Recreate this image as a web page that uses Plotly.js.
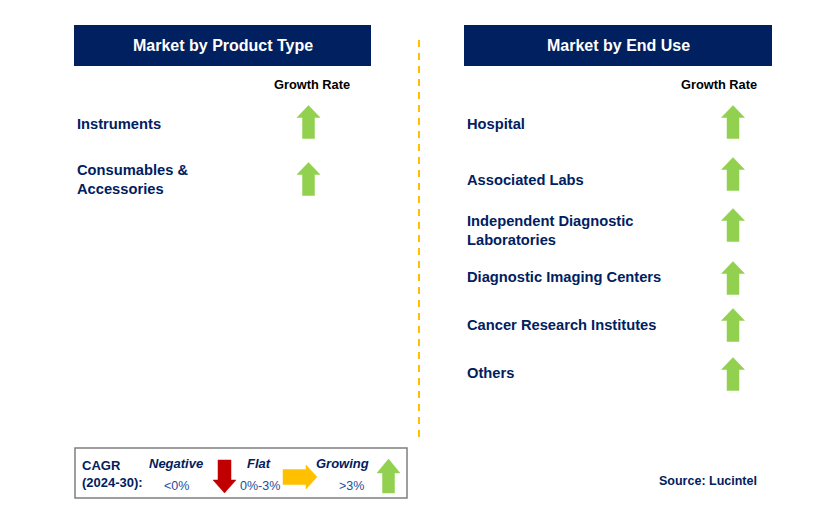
<!DOCTYPE html>
<html>
<head>
<meta charset="utf-8">
<script src="https://cdn.plot.ly/plotly-3.0.1.min.js"></script>
<style>html,body{margin:0;padding:0;background:#fff;}#chart{width:831px;height:523px;}</style>
</head>
<body>
<div id="chart"></div>
<script>
// ---- data ----
var panelTitles = ["Market by Product Type", "Market by End Use"];
var productTypes = ["Instruments", "Consumables &<br>Accessories"];
var productGrowth = ["up", "up"];
var endUses = ["Hospital", "Associated Labs", "Independent Diagnostic<br>Laboratories", "Diagnostic Imaging Centers", "Cancer Research Institutes", "Others"];
var endUseGrowth = ["up", "up", "up", "up", "up", "up"];
var legendLabels = ["Negative", "Flat", "Growing"];
var legendRanges = ["<0%", "0%-3%", ">3%"];
var legendDirections = ["down", "right", "up"];
var cagrLabel = "CAGR<br>(2024-30):";
var sourceText = "Source: Lucintel";

// ---- styling / layout helpers ----
var NAVY = "#002060", GREEN = "#92d050", RED = "#c00000", ORANGE = "#ffc000";
var FONT = "Liberation Sans, Arial, sans-serif";
var colorFor = {up: GREEN, down: RED, right: ORANGE};

function arrowPath(dir, cx, cy, len, w, head, shaft) {
  var xs, ys, h = len / 2;
  if (dir === "up") {
    xs = [cx, cx + w/2, cx + shaft/2, cx + shaft/2, cx - shaft/2, cx - shaft/2, cx - w/2, cx];
    ys = [cy - h, cy - h + head, cy - h + head, cy + h, cy + h, cy - h + head, cy - h + head, cy - h];
  } else if (dir === "down") {
    xs = [cx, cx + w/2, cx + shaft/2, cx + shaft/2, cx - shaft/2, cx - shaft/2, cx - w/2, cx];
    ys = [cy + h, cy + h - head, cy + h - head, cy - h, cy - h, cy + h - head, cy + h - head, cy + h];
  } else {
    xs = [cx + h, cx + h - head, cx + h - head, cx - h, cx - h, cx + h - head, cx + h - head, cx + h];
    ys = [cy, cy - w/2, cy - shaft/2, cy - shaft/2, cy + shaft/2, cy + shaft/2, cy + w/2, cy];
  }
  return {x: xs, y: ys};
}

var traces = [], annotations = [], shapes = [];

function addArrow(dir, cx, cy, len, w, head, shaft) {
  var p = arrowPath(dir, cx, cy, len, w, head, shaft);
  traces.push({type: "scatter", mode: "lines", x: p.x, y: p.y, fill: "toself",
    fillcolor: colorFor[dir], line: {color: colorFor[dir], width: 0.5}, hoverinfo: "skip", showlegend: false});
}
function addText(text, x, y, opts) {
  opts = opts || {};
  annotations.push({xref: "x", yref: "y", x: x, y: y, text: text, showarrow: false,
    xanchor: opts.xanchor || "left", yanchor: "middle", align: opts.align || "left",
    borderpad: 0, borderwidth: 0,
    font: {family: opts.family || FONT, size: opts.size || 14, color: opts.color || NAVY}});
}

// headers
var headerBoxes = [[74, 371], [464, 772]];
panelTitles.forEach(function (t, i) {
  var b = headerBoxes[i];
  shapes.push({type: "rect", xref: "x", yref: "y", x0: b[0], x1: b[1], y0: 25, y1: 66,
    fillcolor: NAVY, line: {width: 0}, layer: "below"});
  addText("<b>" + t + "</b>", (b[0] + b[1]) / 2 + 0.5, 45.5, {xanchor: "center", size: 16, color: "#ffffff"});
});
addText("<b>Growth Rate</b>", 312, 84, {xanchor: "center", size: 12.8, color: "#000000"});
addText("<b>Growth Rate</b>", 719, 84, {xanchor: "center", size: 12.8, color: "#000000"});

// left panel rows
var leftTextY = [124, 179.5];
var leftArrowY = [122, 179];
productTypes.forEach(function (c, i) {
  addText("<b>" + c + "</b>", 77, leftTextY[i], {size: 14.7, align: "left"});
  addArrow(productGrowth[i], 308.5, leftArrowY[i], 33, 23, 12, 12);
});

// right panel rows
var rightTextY = [124, 180, 230.5, 277, 325, 373];
var rightArrowY = [122, 174, 225, 278, 325, 374];
endUses.forEach(function (c, i) {
  addText("<b>" + c + "</b>", 467, rightTextY[i], {size: 14.7, align: "left"});
  addArrow(endUseGrowth[i], 733, rightArrowY[i], 33, 23, 12, 12);
});

// divider
shapes.push({type: "line", xref: "x", yref: "y", x0: 419, x1: 419, y0: 40, y1: 438,
  line: {color: ORANGE, width: 2, dash: "7px,6px"}});

// legend box
shapes.push({type: "rect", xref: "x", yref: "y", x0: 75, x1: 407, y0: 448, y1: 498,
  line: {color: "#7f7f7f", width: 1.5}, fillcolor: "rgba(0,0,0,0)"});
addText("<b>" + cagrLabel + "</b>", 82, 474, {size: 13, align: "left"});
var legLabelX = [176, 259, 342];
var legRangeX = [176, 260, 351];
var legArrow = [
  {cx: 224.5, cy: 476.5, len: 33, w: 23, head: 13, shaft: 13},
  {cx: 300, cy: 477, len: 34, w: 24, head: 11, shaft: 15},
  {cx: 388.5, cy: 476, len: 34, w: 23, head: 14, shaft: 12}
];
legendLabels.forEach(function (l, i) {
  addText("<b><i>" + l + "</i></b>", legLabelX[i], 463, {xanchor: "center", size: 13});
  addText(legendRanges[i].replace("<", "&lt;").replace(">", "&gt;"), legRangeX[i], 486, {xanchor: "center", size: 12.5, color: "#1f4e9a"});
  var a = legArrow[i];
  addArrow(legendDirections[i], a.cx, a.cy, a.len, a.w, a.head, a.shaft);
});

addText("<b>" + sourceText + "</b>", 757, 481, {xanchor: "right", size: 12.5});

var layout = {
  width: 831, height: 523,
  margin: {l: 0, r: 0, t: 0, b: 0},
  paper_bgcolor: "#ffffff", plot_bgcolor: "#ffffff",
  xaxis: {range: [0, 831], visible: false, fixedrange: true},
  yaxis: {range: [523, 0], visible: false, fixedrange: true},
  showlegend: false,
  shapes: shapes,
  annotations: annotations
};
Plotly.newPlot("chart", traces, layout, {staticPlot: true, displayModeBar: false});
</script>
</body>
</html>
